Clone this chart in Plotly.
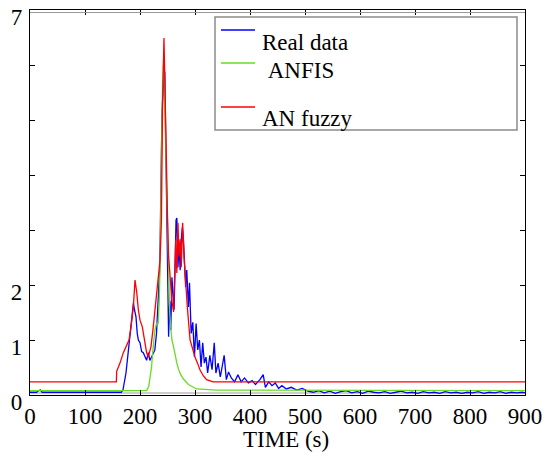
import plotly.graph_objects as go

# ---------------- data ----------------
real_t = [0, 12, 16, 19, 22, 60, 100, 140, 166, 169, 174.5, 179, 182, 185, 188, 190, 192.7, 195, 197, 200,
          203, 206, 209, 212, 215, 218, 221, 224, 227, 230, 233, 236, 238, 240, 243, 245, 247, 249, 250.5,
          252, 254, 256, 258, 260, 262, 264, 265.5, 267, 269, 271, 273, 275, 277, 279, 281, 283, 285, 288,
          290, 293, 296, 299, 302, 305, 308, 311, 314, 317, 320, 323, 327, 331, 335, 338, 342, 346, 350,
          353, 357, 361, 366, 372, 378, 384, 390, 397, 404, 410, 418, 424, 428, 434, 440, 446, 452, 458,
          466, 475, 485, 495, 505, 515, 525, 535, 545, 555, 565, 575, 585, 595, 605, 615, 625, 635, 645,
          655, 665, 675, 685, 695, 705, 715, 725, 735, 745, 755, 765, 775, 785, 795, 805, 815, 825, 835,
          845, 855, 865, 875, 885, 895, 900]
real_v = [0.05, 0.05, 0.08, 0.09, 0.05, 0.05, 0.04, 0.04, 0.05, 0.09, 0.40, 0.82, 1.12, 1.30, 1.67, 1.55,
          1.42, 1.12, 1.00, 0.95, 0.79, 0.77, 0.69, 0.63, 0.77, 0.63, 0.69, 0.77, 0.82, 1.12, 1.73, 2.32,
          3.77, 5.12, 5.72, 5.88, 4.46, 3.18, 1.96, 1.06, 1.71, 1.18, 2.14, 1.78, 1.55, 2.42, 3.18, 3.22,
          2.32, 2.73, 2.27, 2.82, 3.05, 2.82, 2.45, 1.96, 2.27, 1.60, 2.04, 1.12, 1.32, 0.69, 1.30, 0.82,
          1.00, 0.51, 0.95, 0.58, 0.69, 0.40, 0.72, 0.46, 0.95, 0.40, 0.58, 0.33, 0.55, 0.72, 0.28, 0.42,
          0.31, 0.24, 0.37, 0.24, 0.31, 0.22, 0.26, 0.19, 0.28, 0.37, 0.14, 0.24, 0.17, 0.22, 0.12, 0.17,
          0.11, 0.14, 0.09, 0.12, 0.07, 0.05, 0.08, 0.04, 0.07, 0.03, 0.06, 0.08, 0.04, 0.06, 0.03, 0.07,
          0.05, 0.04, 0.06, 0.03, 0.05, 0.07, 0.04, 0.05, 0.03, 0.06, 0.04, 0.05, 0.03, 0.06, 0.04, 0.05,
          0.03, 0.05, 0.04, 0.06, 0.03, 0.05, 0.04, 0.06, 0.03, 0.05, 0.04, 0.05, 0.04]

anfis_t = [0, 212, 216, 221, 224, 227, 230, 233, 235, 237, 239, 241, 243, 245, 247, 248.5, 250, 252, 254,
           256, 258, 261, 264, 267, 270, 274, 279, 288, 303, 339, 900]
anfis_v = [0.08, 0.08, 0.16, 0.51, 0.88, 1.18, 1.30, 1.30, 1.71, 2.58, 4.40, 5.68, 6.08, 5.17, 4.15, 3.54,
           2.73, 1.91, 1.49, 1.23, 1.00, 0.88, 0.69, 0.58, 0.47, 0.37, 0.29, 0.19, 0.11, 0.09, 0.08]

anfuzzy_t = [0, 157, 157.6, 163.6, 169.7, 175.8, 180, 183.6, 187.9, 190.9, 194, 197, 200, 204.2, 207.9, 212,
             215, 220, 224, 228.5, 233.3, 236.4, 239, 241, 243.6, 246, 248, 250, 252, 255, 258, 261, 263,
             265, 267, 269, 271, 273, 275, 277.5, 280, 283, 286, 291, 295, 300, 305, 309, 315, 321, 333, 900]
anfuzzy_v = [0.24, 0.24, 0.43, 0.58, 0.77, 0.91, 1.00, 1.23, 1.60, 2.09, 1.87, 1.55, 1.36, 1.24, 1.00, 0.77,
             0.69, 0.88, 1.23, 1.67, 2.13, 2.45, 3.18, 5.30, 6.49, 4.97, 3.95, 3.24, 2.52, 2.02, 1.71, 1.51,
             2.12, 2.83, 2.22, 3.13, 2.52, 2.83, 2.32, 3.13, 2.52, 2.02, 1.61, 1.00, 0.85, 0.69, 0.57, 0.46,
             0.35, 0.28, 0.24, 0.24]

series_names = ["Real data", " ANFIS", "AN fuzzy"]
x_title = "TIME (s)"
x_ticks = [0, 100, 200, 300, 400, 500, 600, 700, 800, 900]
y_ticks = [0, 1, 2, 3, 4, 5, 6, 7]
y_tick_text = ["0", "1", "2", "", "", "", "", "7"]
x_range = [0, 900]
y_range = [0, 7]

# ---------------- figure ----------------
FONT = "Liberation Serif"
colors = ["#0000ff", "#66dd22", "#ff0000"]

fig = go.Figure()
for (t, v, c, n) in [(real_t, real_v, colors[0], series_names[0]),
                     (anfis_t, anfis_v, colors[1], series_names[1]),
                     (anfuzzy_t, anfuzzy_v, colors[2], series_names[2])]:
    fig.add_trace(go.Scatter(x=t, y=v, mode="lines", name=n,
                             line=dict(color=c, width=1.3), showlegend=False))

axis_common = dict(showgrid=False, zeroline=False, showline=True, linecolor="black", linewidth=1.2,
                   mirror="ticks", ticks="inside", ticklen=5, tickcolor="black", tickwidth=1,
                   automargin=False,
                   tickfont=dict(family=FONT, size=23, color="black"))

fig.update_xaxes(range=x_range, tickvals=x_ticks, ticktext=[str(v) for v in x_ticks], **axis_common)
fig.update_yaxes(range=y_range, tickvals=y_ticks, ticktext=y_tick_text, ticklabelshift=7,
                 ticklabelstandoff=2, ticklabeloverflow="allow", **axis_common)

L, R, T, B = 30, 34, 10, 58
W, H = 559, 453
pw, ph = W - L - R, H - T - B

def px_x(p):
    return (p - L) / pw

def px_y(p):
    return (H - B - p) / ph

annotations = [dict(text=x_title, xref="paper", yref="paper", x=px_x(286), y=px_y(439),
                    xanchor="center", yanchor="middle", showarrow=False,
                    font=dict(family=FONT, size=23, color="black"))]

# gray inner frame lines at top and bottom (double frame as in reference)
shapes = [dict(type="line", xref="paper", yref="paper", x0=0, x1=1, y0=px_y(12.5), y1=px_y(12.5),
               line=dict(color="#9a9a9a", width=1), layer="above"),
          dict(type="line", xref="paper", yref="paper", x0=0, x1=1, y0=px_y(393), y1=px_y(393),
               line=dict(color="#9a9a9a", width=1), layer="below")]

# manual legend (line above-left of each text, as in the reference)
shapes.append(dict(type="rect", xref="paper", yref="paper", x0=px_x(215), x1=px_x(517), y0=px_y(130),
                   y1=px_y(17), line=dict(color="#8c8c8c", width=1.5), fillcolor="white", layer="above"))
leg_line_y = [30, 63, 107]
leg_text_y = [42, 70, 118]
leg_text_x = [260, 260, 260]
for i in range(3):
    shapes.append(dict(type="line", xref="paper", yref="paper", x0=px_x(221), x1=px_x(255),
                       y0=px_y(leg_line_y[i]), y1=px_y(leg_line_y[i]),
                       line=dict(color=colors[i], width=1.3), layer="above"))
    annotations.append(dict(text=series_names[i].replace(" ", "&nbsp;", 1) if series_names[i].startswith(" ") else series_names[i],
                            xref="paper", yref="paper", x=px_x(leg_text_x[i]), y=px_y(leg_text_y[i]),
                            xanchor="left", yanchor="middle", showarrow=False,
                            font=dict(family=FONT, size=23, color="black")))

fig.update_layout(width=W, height=H, margin=dict(l=L, r=R, t=T, b=B, pad=0),
                  paper_bgcolor="white", plot_bgcolor="white",
                  shapes=shapes, annotations=annotations, showlegend=False)

fig.write_html("out.html", config={"displayModeBar": False},
               post_script="document.body.style.margin='0px';document.body.style.overflow='hidden';")
